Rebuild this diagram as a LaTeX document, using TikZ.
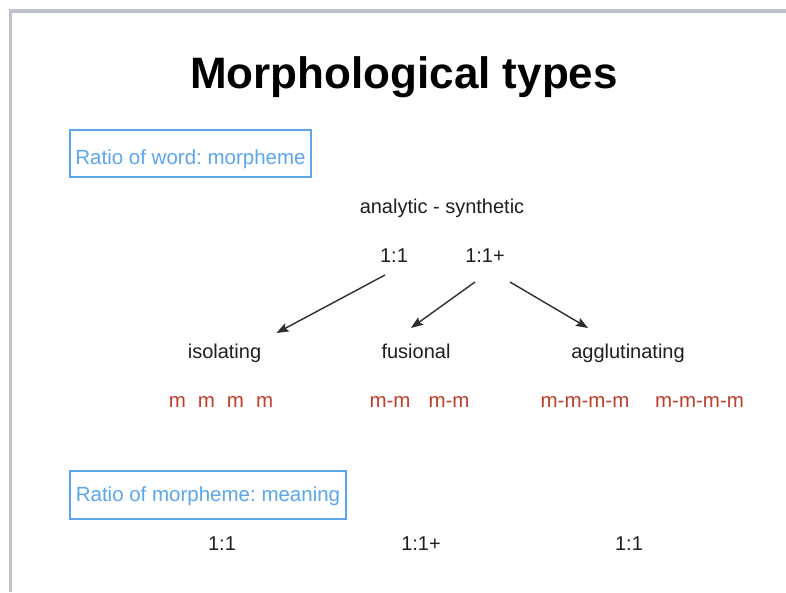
\documentclass[tikz,border=0pt]{standalone}
\usepackage{fontspec}
\setmainfont{Liberation Sans}
\usetikzlibrary{arrows.meta}
\frenchspacing
\definecolor{slideframe}{RGB}{190,194,203}
\definecolor{ratioblue}{RGB}{92,166,236}
\definecolor{morphred}{RGB}{192,62,44}
\tikzset{
  types title/.style={font=\fontsize{44}{50}\selectfont\bfseries,anchor=base},
  ratio box/.style={draw=ratioblue,line width=1.6pt,text=ratioblue,
    font=\fontsize{20.5}{24}\selectfont,inner sep=0pt},
  type label/.style={font=\fontsize{20}{24}\selectfont,text=black!88,anchor=base},
  morph row/.style={font=\fontsize{20.5}{24}\selectfont,text=morphred,anchor=base},
  type arrow/.style={-{Stealth[length=12pt,width=9pt,inset=2pt]},line width=1.4pt,draw=black!82}
}

\begin{document}
\begin{tikzpicture}[x=1pt,y=-1pt]
  \useasboundingbox (0,0) rectangle (786,592);
  \fill[white] (0,0) rectangle (786,592);
  \draw[slideframe,line width=3.5pt] (10.5,592)--(10.5,11)--(786,11);

  \node[types title] (title) at (404,88) {Morphological types};

  \node[ratio box,minimum width=241pt,minimum height=47pt,
    text height=21pt,text depth=0pt] (wordratio)
    at (190.5,153.5) {Ratio of word: morpheme};

  \node[type label] (scale) at (442,213) {analytic - synthetic};
  \node[type label] (onetoone) at (394,262) {1:1};
  \node[type label] (onetoplus) at (485,262) {1:1+};

  \node[type label] (isolating) at (224.5,358) {isolating};
  \node[type label] (fusional) at (416,358) {fusional};
  \node[type label] (agglutinating) at (628,358) {agglutinating};

  \draw[type arrow] ([shift={(-9,13)}]onetoone.base)
    -- ([shift={(52,-25)}]isolating.base);
  \draw[type arrow] ([shift={(-10,20)}]onetoplus.base)
    -- ([shift={(-5,-30)}]fusional.base);
  \draw[type arrow] ([shift={(25,20)}]onetoplus.base)
    -- ([shift={(-40,-30)}]agglutinating.base);

  \node[morph row] (isomorphs) at (221,407) {m\hspace{12pt}m\hspace{12pt}m\hspace{12pt}m};
  \node[morph row] (fusmorphs) at (419.5,407) {m-m\hspace{18pt}m-m};
  \node[morph row] (agglmorphsa) at (585,407) {m-m-m-m};
  \node[morph row] (agglmorphsb) at (699.5,407) {m-m-m-m};

  \node[ratio box,minimum width=276pt,minimum height=48pt,
    text height=16.5pt,text depth=3.5pt] (meaningratio)
    at (208,495) {Ratio of morpheme: meaning};

  \node[type label] (isomeaning) at (222,550) {1:1};
  \node[type label] (fusmeaning) at (421,550) {1:1+};
  \node[type label] (agglmeaning) at (629,550) {1:1};
\end{tikzpicture}
\end{document}
